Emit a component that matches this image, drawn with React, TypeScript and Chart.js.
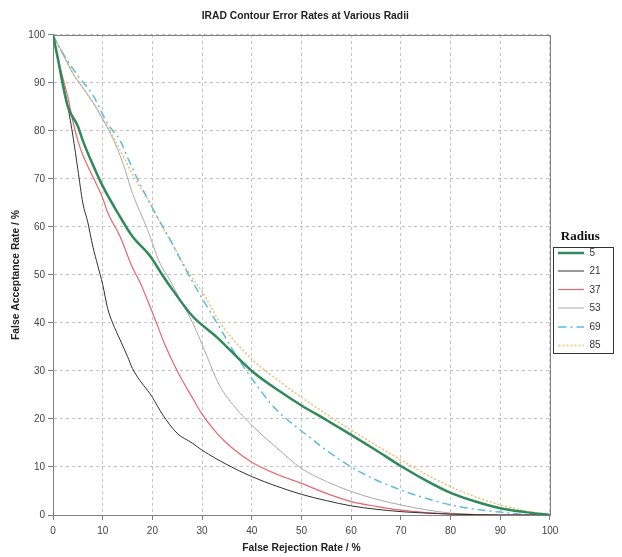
import React, { useEffect, useRef } from "react";
import { Chart, registerables } from "chart.js";

Chart.register(...registerables);

const chartTitle = "IRAD Contour Error Rates at Various Radii";
const xTitle = "False Rejection Rate / %";
const yTitle = "False Acceptance Rate / %";
const legendTitle = "Radius";

const seriesNames = ["5", "21", "37", "53", "69", "85"];

const r5X = [0, 1, 2, 3, 5, 6, 8, 10, 13, 16, 19.5, 22, 24, 28, 33, 40, 46, 50, 55, 60, 65, 70, 75, 80, 85, 90, 95, 100];
const r5Y = [100, 95, 89.5, 85, 81, 78, 73, 68.5, 63, 58, 54, 50, 47, 41.5, 37, 30, 25.5, 22.8, 19.8, 16.7, 13.5, 10.2, 7.2, 4.6, 2.8, 1.4, 0.6, 0];

const r21X = [0, 1, 2, 3, 4, 5, 6, 7, 8, 9, 10, 11, 12, 13.5, 15, 16, 17.5, 19, 20, 22, 25, 28, 30, 35, 40, 45, 50, 55, 60, 65, 70, 75, 80, 90, 100];
const r21Y = [100, 95, 90, 85, 79, 72, 65, 61, 56, 52, 48, 43, 40, 36.5, 33, 30.5, 28, 26, 24.5, 21, 17, 15, 13.5, 10.5, 8, 6, 4.3, 3, 1.9, 1.2, 0.7, 0.4, 0.2, 0, 0];

const r37X = [0, 1, 2, 3, 4, 5, 6, 8, 10, 11, 13.5, 16, 17.5, 19.5, 21, 22.5, 25, 28, 30, 33, 36, 40, 45, 50, 55, 60, 65, 70, 75, 80, 85, 90, 100];
const r37Y = [100, 95, 91, 87, 82, 78, 75, 70.5, 66, 63, 58, 51.5, 48.5, 43.5, 39.5, 35.5, 30, 24.5, 21, 17, 14, 11, 8.5, 6.6, 4.5, 2.8, 1.8, 1, 0.5, 0.2, 0.1, 0, 0];

const r53X = [0, 2, 4, 6, 8, 10, 12, 14, 16, 19, 21.5, 23.5, 25.5, 27.5, 29, 31, 33.5, 37, 40, 45, 50, 55, 60, 65, 70, 75, 80, 85, 90, 100];
const r53Y = [100, 96, 92, 89, 86, 82.5, 78.5, 73.5, 67, 59.5, 52.5, 49, 45, 41.3, 38, 33, 27, 22, 18.7, 14, 9.7, 7, 4.9, 3.3, 2.1, 1.1, 0.4, 0.1, 0, 0];

const r69X = [0, 1.5, 3, 5, 8, 11, 13.5, 15, 17, 20.5, 23.5, 26, 29.5, 33, 37, 41, 44, 47, 50, 55, 60, 65, 70, 75, 80, 85, 90, 95, 100];
const r69Y = [100, 97, 94.5, 91.5, 87.5, 81.5, 78, 74.5, 70, 63, 57.5, 52.5, 46, 40, 33, 27, 23, 20, 17.5, 13.5, 10, 7.3, 5.2, 3.5, 2.1, 1.2, 0.6, 0.1, 0];

const r85X = [0, 2, 4, 6, 8, 10, 12, 14, 16.5, 19, 22, 24, 27, 30, 34, 40, 46, 50, 55, 60, 65, 70, 75, 80, 85, 90, 95, 100];
const r85Y = [100, 96, 92, 89, 86, 82.5, 79, 75, 70, 66, 60, 56.5, 51, 46.5, 39.5, 32.5, 27.5, 24.5, 21, 17.7, 14.5, 11.5, 8.5, 5.9, 3.8, 2.1, 0.9, 0];

const seriesX = [r5X, r21X, r37X, r53X, r69X, r85X];
const seriesY = [r5Y, r21Y, r37Y, r53Y, r69Y, r85Y];

const colors = ["#2f8a5a", "#303030", "#e8666e", "#a8a8a8", "#5bbce0", "#f0c070"];
const widths = [2.5, 1, 1.2, 1, 1.5, 1.5];
const dashes: number[][] = [[], [], [], [], [8, 4, 2, 4], [2, 2]];

const SANS = "'Liberation Sans', Arial, sans-serif";

const frame = {
  id: "plotFrame",
  beforeDatasetsDraw(chart: any) {
    const { ctx, chartArea: a } = chart;
    ctx.save();
    ctx.strokeStyle = "#808080";
    ctx.lineWidth = 1;
    ctx.setLineDash([]);
    ctx.strokeRect(Math.round(a.left) + 0.5, Math.round(a.top) + 0.5, Math.round(a.right - a.left), Math.round(a.bottom - a.top));
    ctx.restore();
  },
};

const legendBox = {
  id: "legendBox",
  afterDraw(chart: any) {
    const lg = chart.legend;
    if (!lg || !lg.legendHitBoxes || !lg.legendHitBoxes.length) return;
    const hb = lg.legendHitBoxes;
    const last = hb[hb.length - 1];
    const top = hb[0].top - 1;
    const bottom = last.top + last.height + 2.5;
    const left = lg.left + 3;
    const right = Math.min(lg.right + 2.4, chart.width - 2);
    const { ctx } = chart;
    ctx.save();
    ctx.strokeStyle = "#333333";
    ctx.lineWidth = 1;
    ctx.setLineDash([]);
    ctx.strokeRect(Math.round(left) + 0.5, Math.round(top) + 0.5, Math.round(right - left), Math.round(bottom - top));
    ctx.restore();
  },
};

function makeIcon(color: string, width: number, dash: number[]) {
  const c = document.createElement("canvas");
  c.width = 26;
  c.height = 6;
  const g = c.getContext("2d");
  if (g) {
    const yy = width <= 1.3 ? 2.5 : 3;
    g.strokeStyle = color;
    g.lineWidth = width;
    g.setLineDash(dash);
    g.beginPath();
    g.moveTo(0, yy);
    g.lineTo(26, yy);
    g.stroke();
  }
  return c;
}

export default function App() {
  const ref = useRef<HTMLCanvasElement | null>(null);

  useEffect(() => {
    if (!ref.current) return;
    const icons = seriesNames.map((_, i) => makeIcon(colors[i], widths[i], dashes[i]));
    const datasets = seriesNames.map((name, i) => ({
      label: name,
      data: seriesX[i].map((x, j) => ({ x, y: seriesY[i][j] })),
      borderColor: colors[i],
      backgroundColor: colors[i],
      borderWidth: widths[i],
      borderDash: dashes[i],
      pointRadius: 0,
      pointHoverRadius: 0,
      fill: false,
      cubicInterpolationMode: "monotone" as const,
    }));

    const chart = new Chart(ref.current, {
      type: "line",
      data: { datasets },
      plugins: [frame, legendBox],
      options: {
        animation: false,
        responsive: false,
        devicePixelRatio: 1,
        layout: { padding: { left: 0, right: 11.4, top: 0, bottom: 0 } },
        plugins: {
          tooltip: { enabled: false },
          title: {
            display: true,
            text: chartTitle,
            color: "#222222",
            font: { family: SANS, size: 10.3, weight: "bold" },
            padding: { top: 9.8, bottom: 12.8 },
          },
          legend: {
            display: true,
            position: "right",
            title: {
              display: true,
              text: legendTitle,
              color: "#111111",
              font: { family: "'Liberation Serif', 'Times New Roman', serif", size: 13, weight: "bold" },
              padding: { top: 32.5, bottom: -6.6 },
            },
            labels: {
              usePointStyle: true,
              pointStyleWidth: 26,
              padding: 8.5,
              color: "#333333",
              font: { family: SANS, size: 10 },
              generateLabels(chart: any) {
                const items = (Chart as any).defaults.plugins.legend.labels.generateLabels(chart);
                items.forEach((it: any, i: number) => {
                  it.pointStyle = icons[i];
                });
                return items;
              },
            },
          },
        },
        scales: {
          x: {
            type: "linear",
            min: 0,
            max: 100,
            afterFit(scale: any) {
              scale.height = 42;
            },
            ticks: {
              stepSize: 10,
              padding: 5,
              color: "#444444",
              font: { family: SANS, size: 10 },
              maxRotation: 0,
            },
            grid: { color: "#c4c4c4", tickColor: "#808080", tickLength: 5, lineWidth: 1 },
            border: { display: true, color: "#808080", dash: [3, 3] },
            title: {
              display: true,
              text: xTitle,
              color: "#222222",
              font: { family: SANS, size: 10.3, weight: "bold" },
              padding: { top: 0, bottom: 2.8 },
            },
          },
          y: {
            type: "linear",
            min: 0,
            max: 100,
            afterFit(scale: any) {
              scale.width = 53;
            },
            ticks: {
              stepSize: 10,
              padding: 3,
              color: "#444444",
              font: { family: SANS, size: 10 },
            },
            grid: { color: "#c4c4c4", tickColor: "#808080", tickLength: 5, lineWidth: 1 },
            border: { display: true, color: "#808080", dash: [3, 3] },
            title: {
              display: true,
              text: yTitle,
              color: "#222222",
              font: { family: SANS, size: 10.3, weight: "bold" },
              padding: { top: 10.3, bottom: 0 },
            },
          },
        },
      },
    } as any);
    return () => chart.destroy();
  }, []);

  return (
    <div style={{ position: "fixed", left: 0, top: 0, width: 622, height: 557, background: "#ffffff" }}>
      <canvas ref={ref} width={622} height={557} style={{ width: 622, height: 557, display: "block" }} />
    </div>
  );
}
